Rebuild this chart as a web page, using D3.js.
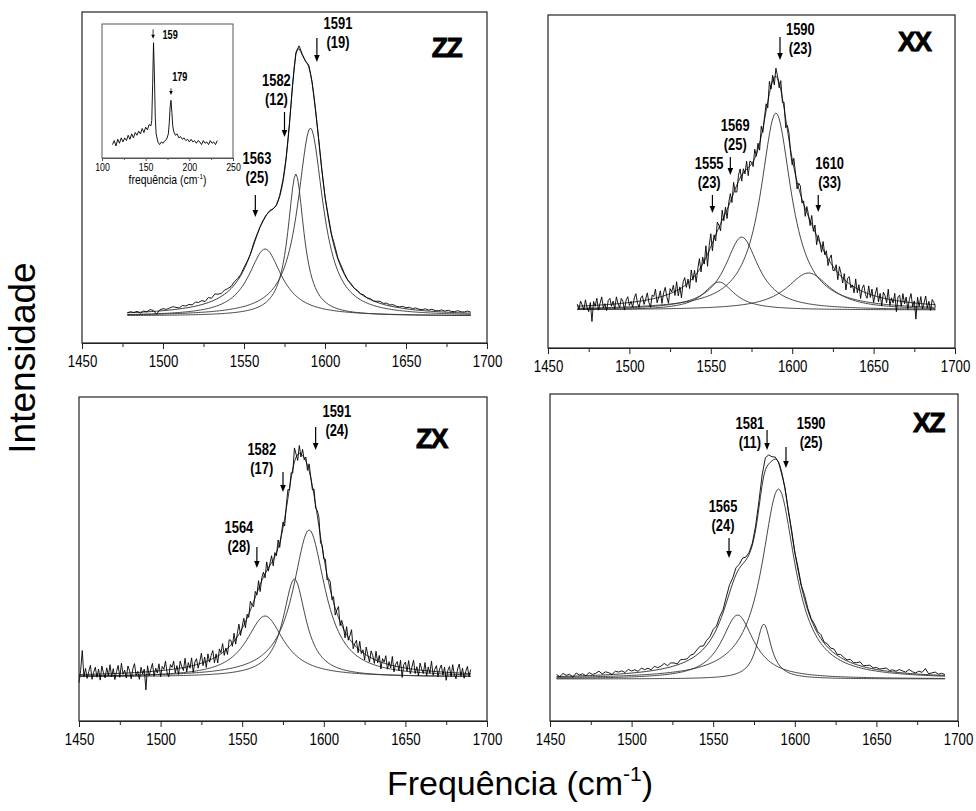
<!DOCTYPE html>
<html><head><meta charset="utf-8">
<script src="https://cdn.jsdelivr.net/npm/d3@7"></script>
<style>body{margin:0;background:#fff} svg{display:block}</style>
</head><body>
<svg id="chart" width="976" height="811"></svg>
<script>
// ---------- data ----------
const xTicks = [1450, 1500, 1550, 1600, 1650, 1700];
const xMinor = [1475, 1525, 1575, 1625, 1675];

// ZZ panel: fitted Lorentzian components (center, width, height); residual = measured - fit, every 2 cm-1
const zzCenters = [1563, 1582, 1591];
const zzWidths = [25, 12, 19];
const zzHeights = [67, 142, 188];
const zzStart = 1478, zzStep = 2;
const zzResidual = [0,1,0,1,-1,1,0,2,1,-3,1, 2,1,2,3,2,1,3,2,3,2,4, 3,4,2,5,3,6,4,3,4,3,2,
  3,2,1,2,1,0,2,1,0,-1,0, 1,0,-1,1,2,1,0,-1,2,3,1, -1,2,0,-1,1,0,-1,2,1,3,1,
  2,1,0,1,0,1,0,1,0,1,0, 1,2,1,2,1,2,1,1,2,1,2, 1,2,1,1,2,1,2,1,1,2,1, 2,1,1,2,1,1,2,1];
const zzLabelText = [["1563","(25)"],["1582","(12)"],["1591","(19)"]];
const zzLabelX = [1558, 1570, 1608];
const zzLabelY = [158, 236, 293];
const zzArrowX = [1557, 1575, 1595];
const zzArrowTop = [121, 204, 278];
const zzArrowBottom = [99, 179, 254];

// XX panel (residual every 1 cm-1)
const xxCenters = [1555, 1569, 1590, 1610];
const xxWidths = [23, 25, 23, 33];
const xxHeights = [28, 73, 197, 37];
const xxStart = 1468, xxStep = 1;
const xxResidual = [
  2,-3,5,1,-4,6,-2,-6,3,-16,4,-1,7,-5,2,8,-3,1,-6,4,
  6,-2,3,-5,7,0,-4,5,2,-7,3,6,-3,1,-5,4,8,-2,-6,3,
  5,-4,1,7,-3,-8,4,2,9,-5,0,6,-7,3,8,-2,-9,5,1,7,
  -4,9,-6,2,-10,5,8,-3,4,-7,10,-2,6,-8,3,11,-5,7,-3,12,
  -12,5,13,-8,4,-6,9,2,-7,10,-4,6,-9,3,8,-5,11,-3,-7,6,
  9,-6,4,-3,8,-8,5,2,-5,9,-2,6,-7,10,-4,3,7,-6,12,-3,
  5,-8,8,2,-5,9,-4,6,-9,4,7,-3,-6,9,2,-7,5,8,-4,3,
  -8,6,2,-5,9,-3,7,-9,4,1,-6,8,-2,5,-7,3,9,-4,-2,6,
  -7,8,3,-5,6,-9,4,7,-3,1,-6,9,-4,5,-8,3,7,-2,-5,8,
  -3,6,-7,2,9,-5,4,-8,6,3,-4,10,-6,2,-3,7,-11,4,6,-5,
  8,-2,5,-7,3,9,-4,2,-16,6,-3,7,-5,1,8,-4,3,-6,5,2,
  -2];
const xxLabelText = [["1555","(23)"],["1569","(25)"],["1590","(23)"],["1610","(33)"]];
const xxLabelX = [1549, 1565, 1605, 1623];
const xxLabelY = [147, 185, 281, 147];
const xxArrowX = [1551, 1562, 1592.5, 1616];
const xxArrowTop = [115, 153, 273, 115];
const xxArrowBottom = [97, 135, 250, 98];

// ZX panel (residual every 1 cm-1)
const zxCenters = [1564, 1582, 1591];
const zxWidths = [28, 17, 24];
const zxHeights = [61, 98, 147];
const zxStart = 1450, zxStep = 1;
const zxResidual = [
  -8,4,24,-2,6,-4,3,9,-5,2,7,-3,5,-6,8,1,-4,6,-2,9,
  -3,5,-6,2,8,-4,10,-1,3,-5,7,2,-6,4,9,-3,1,-7,5,-2,
  3,-18,6,-4,2,8,-5,3,-2,7,-6,4,1,9,-3,-7,5,2,8,-4,
  3,-6,7,1,-3,9,-5,4,-2,8,-7,3,6,-4,2,10,-3,5,-6,7,
  -2,4,8,-5,3,-7,6,1,9,-4,2,-6,7,5,-3,8,-5,3,10,-4,
  2,7,-6,4,-3,9,1,-5,6,-2,8,-7,3,5,-4,9,-3,2,7,-6,
  4,-3,8,-5,2,6,-7,3,9,-2,5,-4,14,3,-6,8,-3,6,-2,4,
  -5,7,1,-4,6,-3,5,9,-6,2,-2,7,-5,4,8,-3,6,-7,3,11,
  -4,5,2,-6,8,-3,4,12,-5,2,7,-4,9,-2,3,-6,8,1,-5,7,
  3,-4,9,-2,6,-7,4,1,8,-5,3,-3,9,-6,2,5,-4,7,-10,3,
  6,-3,8,-5,2,9,-4,3,-6,7,1,-3,8,-5,4,-2,10,-4,2,6,
  -5,3,7,-3,5,-8,2,6,-4,8,-2,-6,4,9,-3,5,-5,2,7,-3,
  4];
const zxLabelText = [["1564","(28)"],["1582","(17)"],["1591","(24)"]];
const zxLabelX = [1548, 1562, 1608];
const zxLabelY = [150, 228, 266];
const zxArrowX = [1559, 1575, 1595];
const zxArrowTop = [130, 205, 250];
const zxArrowBottom = [109, 185, 227];

// XZ panel (residual every 2 cm-1)
const xzCenters = [1565, 1581, 1590];
const xzWidths = [24, 11, 25];
const xzHeights = [64, 55, 190];
const xzStart = 1454, xzStep = 2;
const xzResidual = [2,0,3,1,2,-1,3,1,2,0, 3,1,2,4,1,3,2,0,3,2, 3,1,4,2,3,1,4,2,3,1,
  4,2,3,5,2,4,3,1,4,3, 2,4,3,5,6,3,5,4,6,3, 5,3,6,8,5,7,4,6,3,2,
  2,4,7,10,12,9,4,2,0,-2, 1,-1,2,0,3,1,4,2,1,3, 2,4,1,3,2,4,1,3,2,1,
  3,1,2,4,1,2,3,1,2,1, 2,3,1,2,1,3,2,1,4,2, 1,3,2,6,1,2,3,1,2,1];
const xzLabelText = [["1565","(24)"],["1581","(11)"],["1590","(25)"]];
const xzLabelX = [1556, 1572.5, 1610];
const xzLabelY = [173, 256, 256];
const xzArrowX = [1559.7, 1583, 1594.6];
const xzArrowTop = [141, 249, 232];
const xzArrowBottom = [121, 229, 211];

// inset spectrum (low-frequency region)
const insetX = [112,114,116,118,120,122,124,126,128,130,132,134,136,138,140,142,144,146,148,150,152,154,156,157,158,159,160,161,162,164,166,168,170,172,174,176,177,178,179,180,181,182,184,186,188,190,192,194,196,198,200,202,204,206,208,210,212,214,216,218,220,222,224,226,228,230,232];
const insetY = [10,13,9,14,11,15,12,15,13,17,14,18,15,19,17,20,18,22,19,23,21,25,24,28,55,86,62,30,18,12,10,12,11,13,14,18,26,38,43,34,24,20,17,18,15,16,14,15,13,14,12,14,12,13,11,13,12,10,13,11,12,10,13,11,12,10,13];
const insetTicks = [100, 150, 200, 250];
const insetMinor = [125, 175, 225];
const insetLabelText = ["159", "179"];
const insetLabelX = [178, 189];
const insetLabelY = [92, 61];
const insetArrowX = [158.5, 179];
const insetArrowTop = [96, 52];
const insetArrowBottom = [89, 47];

// ---------- drawing ----------
const svg = d3.select("#chart");
const FONT = "Arial, 'Liberation Sans', Helvetica, sans-serif";
const lorentz = (x, c, w, h) => { const t = (x - c) / (w / 2); return h / (1 + t * t); };

function drawPanel(p) {
  const x = d3.scaleLinear().domain([1450, 1700]).range([p.x0, p.x1]);
  const y = d3.scaleLinear().domain([p.base - p.y1, p.base - p.y0]).range([p.y1, p.y0]);
  const g = svg.append("g");

  const end = p.start + (p.residual.length - 1) * p.step;
  const fitX = d3.range(p.start, end + 0.001, 1);
  const sumAt = xv => d3.sum(p.centers, (c, i) => lorentz(xv, c, p.widths[i], p.heights[i]));
  const line = d3.line().x(d => x(d[0])).y(d => y(d[1]));

  p.centers.forEach((c, i) => {
    g.append("path").datum(fitX.map(xv => [xv, lorentz(xv, c, p.widths[i], p.heights[i])]))
      .attr("d", line).attr("fill", "none").attr("stroke", "#333").attr("stroke-width", 0.9);
  });
  g.append("path").datum(fitX.map(xv => [xv, sumAt(xv)]))
    .attr("d", line).attr("fill", "none").attr("stroke", "#222").attr("stroke-width", 0.9);
  g.append("path").datum(p.residual.map((r, i) => { const xv = p.start + i * p.step; return [xv, sumAt(xv) + r]; }))
    .attr("d", line).attr("fill", "none").attr("stroke", "#000").attr("stroke-width", 0.9);

  g.append("rect").attr("x", p.x0).attr("y", p.y0).attr("width", p.x1 - p.x0).attr("height", p.y1 - p.y0)
    .attr("fill", "none").attr("stroke", "#222").attr("stroke-width", 1.2);

  const ax = g.append("g").attr("transform", `translate(0,${p.y1})`)
    .call(d3.axisBottom(x).tickValues(xTicks).tickSize(6).tickSizeOuter(0).tickFormat(d3.format("d")));
  ax.select(".domain").attr("stroke", "#222").attr("stroke-width", 1.2);
  ax.selectAll(".tick line").attr("stroke", "#222");
  ax.selectAll(".tick text").attr("font-family", FONT).attr("font-size", 17).attr("fill", "#000")
    .attr("y", 12).attr("transform", "scale(0.78,1)");
  const axm = g.append("g").attr("transform", `translate(0,${p.y1})`)
    .call(d3.axisBottom(x).tickValues(xMinor).tickSize(4).tickSizeOuter(0).tickFormat(""));
  axm.select(".domain").remove();
  axm.selectAll(".tick line").attr("stroke", "#222");

  p.labelText.forEach((t, i) => {
    const tg = g.append("g").attr("transform", `translate(${x(p.labelX[i])},${y(p.labelY[i])}) scale(0.76,1)`);
    tg.append("text").attr("text-anchor", "middle").attr("dy", "0.36em")
      .attr("font-family", FONT).attr("font-weight", "bold").attr("font-size", 17).text(t[0]);
    tg.append("text").attr("text-anchor", "middle").attr("y", 19).attr("dy", "0.36em")
      .attr("font-family", FONT).attr("font-weight", "bold").attr("font-size", 17).text(t[1]);
  });
  p.arrowX.forEach((ax0, i) => {
    const px = x(ax0), yt = y(p.arrowTop[i]), yb = y(p.arrowBottom[i]);
    g.append("line").attr("x1", px).attr("x2", px).attr("y1", yt).attr("y2", yb - 5)
      .attr("stroke", "#000").attr("stroke-width", 1.2);
    g.append("path").attr("d", `M${px - 2.8},${yb - 7}L${px + 2.8},${yb - 7}L${px},${yb}Z`).attr("fill", "#000");
  });
  g.append("g").attr("transform", `translate(${x(p.nameX)},${p.nameY}) scale(0.95,1)`)
    .append("text").attr("text-anchor", "middle").attr("dy", "0.36em")
    .attr("font-family", FONT).attr("font-weight", "bold").attr("font-size", 28).attr("letter-spacing", -1.5)
    .attr("stroke", "#000").attr("stroke-width", 0.9).attr("stroke-linejoin", "miter")
    .text(p.name);
}

drawPanel({x0: 82, x1: 487, y0: 12, y1: 343, base: 316, start: zzStart, step: zzStep, residual: zzResidual,
  centers: zzCenters, widths: zzWidths, heights: zzHeights, labelText: zzLabelText, labelX: zzLabelX, labelY: zzLabelY,
  arrowX: zzArrowX, arrowTop: zzArrowTop, arrowBottom: zzArrowBottom, name: "ZZ", nameX: 1675, nameY: 47});
drawPanel({x0: 548, x1: 955, y0: 15, y1: 348, base: 310, start: xxStart, step: xxStep, residual: xxResidual,
  centers: xxCenters, widths: xxWidths, heights: xxHeights, labelText: xxLabelText, labelX: xxLabelX, labelY: xxLabelY,
  arrowX: xxArrowX, arrowTop: xxArrowTop, arrowBottom: xxArrowBottom, name: "XX", nameX: 1675, nameY: 41});
drawPanel({x0: 79, x1: 487, y0: 397, y1: 721, base: 677, start: zxStart, step: zxStep, residual: zxResidual,
  centers: zxCenters, widths: zxWidths, heights: zxHeights, labelText: zxLabelText, labelX: zxLabelX, labelY: zxLabelY,
  arrowX: zxArrowX, arrowTop: zxArrowTop, arrowBottom: zxArrowBottom, name: "ZX", nameX: 1666, nameY: 438});
drawPanel({x0: 550, x1: 958, y0: 394, y1: 721, base: 679, start: xzStart, step: xzStep, residual: xzResidual,
  centers: xzCenters, widths: xzWidths, heights: xzHeights, labelText: xzLabelText, labelX: xzLabelX, labelY: xzLabelY,
  arrowX: xzArrowX, arrowTop: xzArrowTop, arrowBottom: xzArrowBottom, name: "XZ", nameX: 1682, nameY: 422});

// inset
(function () {
  const x0 = 102, x1 = 233, y0 = 24, y1 = 158;
  const x = d3.scaleLinear().domain([100, 250]).range([x0, x1]);
  const y = d3.scaleLinear().domain([0, 100]).range([y1, y0]);
  const g = svg.append("g");
  g.append("rect").attr("x", x0).attr("y", y0).attr("width", x1 - x0).attr("height", y1 - y0)
    .attr("fill", "#fff").attr("stroke", "#555").attr("stroke-width", 1);
  g.append("path").datum(insetX.map((v, i) => [v, insetY[i]]))
    .attr("d", d3.line().x(d => x(d[0])).y(d => y(d[1])))
    .attr("fill", "none").attr("stroke", "#000").attr("stroke-width", 0.9);
  const ax = g.append("g").attr("transform", `translate(0,${y1})`)
    .call(d3.axisBottom(x).tickValues(insetTicks).tickSize(3).tickSizeOuter(0));
  ax.select(".domain").attr("stroke", "#555");
  ax.selectAll(".tick line").attr("stroke", "#555");
  ax.selectAll(".tick text").attr("font-family", FONT).attr("font-size", 11).attr("fill", "#000")
    .attr("y", 5).attr("transform", "scale(0.8,1)");
  const axm = g.append("g").attr("transform", `translate(0,${y1})`)
    .call(d3.axisBottom(x).tickValues(insetMinor).tickSize(2).tickFormat(""));
  axm.select(".domain").remove();
  axm.selectAll(".tick line").attr("stroke", "#555");
  const tl = g.append("g").attr("transform", `translate(${(x0 + x1) / 2},184) scale(0.8,1)`)
    .append("text").attr("text-anchor", "middle").attr("font-family", FONT).attr("font-size", 13);
  tl.append("tspan").text("frequência (cm");
  tl.append("tspan").attr("font-size", 8).attr("dy", -5).text("-1");
  tl.append("tspan").attr("dy", 5).text(")");
  insetLabelText.forEach((t, i) => {
    g.append("g").attr("transform", `translate(${x(insetLabelX[i])},${y(insetLabelY[i])}) scale(0.76,1)`)
      .append("text").attr("text-anchor", "middle").attr("dy", "0.36em")
      .attr("font-family", FONT).attr("font-weight", "bold").attr("font-size", 12).text(t);
  });
  insetArrowX.forEach((v, i) => {
    const px = x(v), yt = y(insetArrowTop[i]), yb = y(insetArrowBottom[i]);
    g.append("line").attr("x1", px).attr("x2", px).attr("y1", yt).attr("y2", yb - 3).attr("stroke", "#000").attr("stroke-width", 0.8);
    g.append("path").attr("d", `M${px - 1.8},${yb - 4}L${px + 1.8},${yb - 4}L${px},${yb}Z`).attr("fill", "#000");
  });
})();

// axis titles
svg.append("text").attr("transform", "translate(22,358) rotate(-90)").attr("text-anchor", "middle").attr("dy", "0.36em")
  .attr("font-family", FONT).attr("font-size", 37).text("Intensidade");
const ft = svg.append("text").attr("x", 520).attr("y", 795).attr("text-anchor", "middle")
  .attr("font-family", FONT).attr("font-size", 34);
ft.append("tspan").text("Frequência (cm");
ft.append("tspan").attr("font-size", 21).attr("dy", -14).text("-1");
ft.append("tspan").attr("dy", 14).text(")");
</script>
</body></html>
